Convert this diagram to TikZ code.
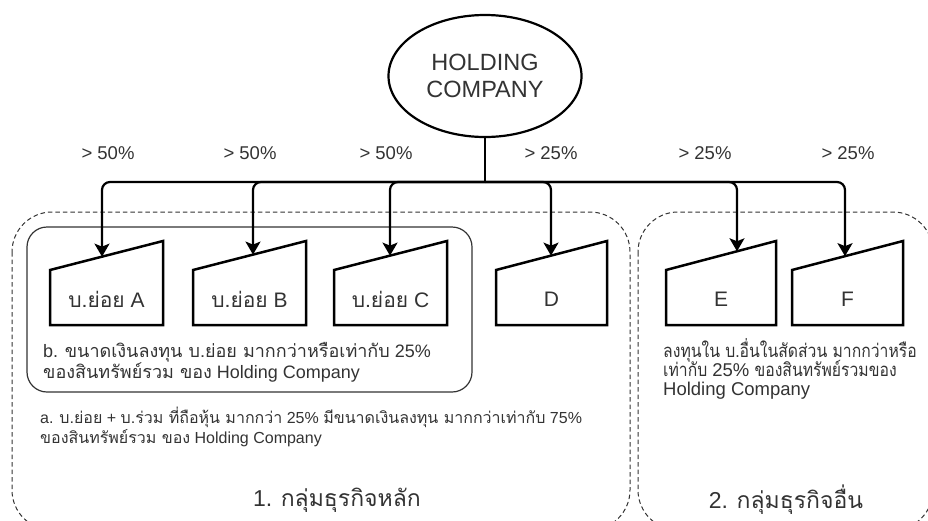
\documentclass[tikz,border=0pt]{standalone}
\usepackage{fontspec}
\setmainfont{Liberation Sans}
\newfontfamily\thaifont[Script=Thai]{Loma}
\newfontfamily\thainarrow[Script=Thai,FakeStretch=0.85]{Loma}
\usetikzlibrary{arrows.meta,shapes.geometric}
\newcommand\T[1]{{\thaifont #1}}
\newcommand\Tn[1]{{\thainarrow #1}}
% manual-input box: name, left x, right x, arrow x, label
\newcommand\manbox[5]{%
  \draw[trap] (#2,325) -- (#3,325) -- (#3,241) -- (#2,270) -- cycle;
  \node[boxtext] (#1) at ({(#2+#3)/2},299) {#5};
  \coordinate (#1-in) at (#4,{270-29*(#4-#2)/(#3-#2)});
}
\definecolor{ink}{HTML}{333333}
\begin{document}
\begin{tikzpicture}[x=1pt,y=-1pt,
  conn/.style={line width=2.2pt, rounded corners=8pt},
  arr/.style={conn, -{Stealth[length=13pt,width=15pt,inset=3pt]}},
  trap/.style={draw, line width=2.5pt, line join=miter},
  boxtext/.style={font=\fontsize{21}{25}\selectfont, text=ink, inner sep=0pt},
  pct/.style={font=\fontsize{18.5}{22}\selectfont, text=ink, inner sep=0pt},
  noteb/.style={font=\fontsize{18}{20}\selectfont, text=ink, anchor=base west, inner sep=0pt},
  notea/.style={font=\fontsize{16}{18}\selectfont, text=ink, anchor=base west, inner sep=0pt},
  notee/.style={font=\fontsize{18.5}{20}\selectfont, text=ink, anchor=base west, inner sep=0pt},
  grouptitle/.style={font=\fontsize{23}{26}\selectfont, text=ink, inner sep=0pt},
  group/.style={draw=black!80, dash pattern=on 4.5pt off 3pt, line width=1pt, rounded corners=40pt},
  subgroup/.style={draw=black!80, line width=1.2pt, rounded corners=20pt},
]
\useasboundingbox (0,0) rectangle (928,520);

% group frames
\draw[group] (12,212) rectangle (630,530);
\draw[group] (638,212) rectangle (933,530);
\draw[subgroup] (27,227) rectangle (472,392);

% holding company and trunk
\node[draw, ellipse, line width=2.2pt, minimum width=193pt, minimum height=122pt,
      align=center, font=\fontsize{23.5}{26.5}\selectfont, text=ink] (hold) at (485,76)
      {HOLDING\\COMPANY};
\coordinate (bar) at (485,182);
\draw[conn] (hold.south) -- (bar);

% companies
\manbox{A}{50}{163}{102}{\T{บ.ย่อย} A}
\manbox{B}{193}{306}{253}{\T{บ.ย่อย} B}
\manbox{C}{334}{447}{390}{\T{บ.ย่อย} C}
\manbox{D}{496}{607}{551}{D}
\manbox{E}{666}{776}{737}{E}
\manbox{F}{792}{903}{845}{F}

% ownership arrows
\foreach \n in {A,B,C,D,E,F} \draw[arr] (bar) -| (\n-in);

% shareholding labels
\node[pct] (pA) at (108,153) {> 50\%};
\node[pct] (pB) at (250,153) {> 50\%};
\node[pct] (pC) at (386,153) {> 50\%};
\node[pct] (pD) at (551,153) {> 25\%};
\node[pct] (pE) at (705,153) {> 25\%};
\node[pct] (pF) at (848,153) {> 25\%};

% notes
\node[noteb] (b1) at (43,357) {b. \T{ขนาดเงินลงทุน บ.ย่อย มากกว่าหรือเท่ากับ} 25\%};
\node[noteb] (b2) at (43,378) {\T{ของสินทรัพย์รวม ของ} Holding Company};
\node[notea] (a1) at (40,423) {a. \T{บ.ย่อย} + \T{บ.ร่วม ที่ถือหุ้น มากกว่า} 25\% \T{มีขนาดเงินลงทุน มากกว่าเท่ากับ} 75\%};
\node[notea] (a2) at (40,443) {\T{ของสินทรัพย์รวม ของ} Holding Company};
\node[notee] (e1) at (663,357) {\Tn{ลงทุนใน บ.อื่นในสัดส่วน มากกว่าหรือ}};
\node[notee] (e2) at (663,376) {\Tn{เท่ากับ} 25\% \Tn{ของสินทรัพย์รวมของ}};
\node[notee] (e3) at (663,395) {Holding Company};

% group titles
\node[grouptitle] (g1) at (337,500) {1. \T{กลุ่มธุรกิจหลัก}};
\node[grouptitle] (g2) at (786,500) {2. \T{กลุ่มธุรกิจอื่น}};
\end{tikzpicture}
\end{document}
